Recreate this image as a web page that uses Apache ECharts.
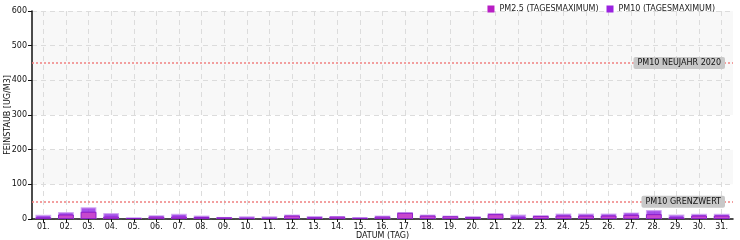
<!DOCTYPE html>
<html><head><meta charset="utf-8">
<script src="https://cdn.jsdelivr.net/npm/echarts@6/dist/echarts.min.js"></script>
<style>html,body{margin:0;padding:0;background:#fff}#c{width:740px;height:240px}</style>
</head><body><div id="c"></div>
<script>
const days = ['01.','02.','03.','04.','05.','06.','07.','08.','09.','10.','11.','12.','13.','14.','15.','16.','17.','18.','19.','20.','21.','22.','23.','24.','25.','26.','27.','28.','29.','30.','31.'];
const pm25 = [5,13,21,7,3,7,7,6,5,4,4,10,5,7,4,7,18,10,8,6,14,5,9,10,10,10,12,14,5,10,10];
const pm10 = [12,20,34,17,5,11,15,10,6,8,8,13,9,9,5,10,20,13,10,8,17,13,11,16,16,16,19,26,13,15,15];
const yTicks = [0,100,200,300,400,500,600];
const limitNewYear = 450;
const limitValue = 50;
const names = {pm25:'PM2.5 (TAGESMAXIMUM)', pm10:'PM10 (TAGESMAXIMUM)'};

const font = 'DejaVu Sans';
const chart = echarts.init(document.getElementById('c'), null, {renderer:'canvas'});
chart.setOption({
  animation:false,
  textStyle:{fontFamily:font},
  legend:{
    right:20, top:0, itemWidth:7, itemHeight:7, itemGap:8,
    icon:'rect',
    itemStyle:{borderWidth:0},
    textStyle:{fontSize:8, color:'#222', fontFamily:font},
    data:[
      {name:names.pm25, itemStyle:{color:'#b81ec4', borderWidth:0}},
      {name:names.pm10, itemStyle:{color:'#9a22e0', borderWidth:0}}
    ]
  },
  grid:{left:32, right:7, top:11, bottom:21, containLabel:false, outerBoundsMode:'none'},
  xAxis:{
    type:'category', data:days,
    name:'DATUM (TAG)', nameLocation:'middle', nameGap:13, nameMoveOverlap:false,
    nameTextStyle:{fontSize:8, color:'#111', fontFamily:font},
    axisLine:{lineStyle:{color:'#111', width:1.5}},
    axisTick:{show:true, alignWithLabel:true, length:3, lineStyle:{color:'#111'}},
    axisLabel:{fontSize:8, color:'#111', margin:4, interval:0, fontFamily:font},
    splitLine:{show:true, alignWithLabel:true, lineStyle:{color:'#dcdcdc', type:[5,4], width:1}}
  },
  yAxis:{
    type:'value', min:yTicks[0], max:yTicks[yTicks.length-1], interval:100,
    name:'FEINSTAUB [UG/M3]', nameLocation:'middle', nameGap:20, nameRotate:90, nameMoveOverlap:false,
    nameTextStyle:{fontSize:8, color:'#111', fontFamily:font},
    axisLine:{show:true, lineStyle:{color:'#111', width:1.5}},
    axisTick:{show:true, length:4, lineStyle:{color:'#111'}},
    axisLabel:{fontSize:8, color:'#111', margin:5, fontFamily:font},
    splitLine:{show:true, lineStyle:{color:'#dcdcdc', type:[5,4]}},
    splitArea:{show:true, areaStyle:{color:['#ffffff','#f8f8f8','#ffffff','#f8f8f8','#f8f8f8','#f8f8f8']}}
  },
  series:[
    {
      name:names.pm10, type:'bar', data:pm10, barWidth:'70%', barGap:'-100%', z:2,
      itemStyle:{color:'rgba(150,50,230,0.85)', borderColor:'rgba(205,160,240,0.8)', borderWidth:1.2},
      markLine:{
        symbol:'none', silent:true,
        lineStyle:{color:'#f08080', type:[2,2], width:1.5},
        label:{position:'insideEnd', distance:8, fontSize:8, color:'#111', fontFamily:font,
               backgroundColor:'#c8c8c8', borderRadius:2, padding:[2,4,2,4]},
        data:[
          {yAxis:limitNewYear, label:{formatter:'PM10 NEUJAHR 2020'}},
          {yAxis:limitValue, label:{formatter:'PM10 GRENZWERT'}}
        ]
      }
    },
    {
      name:names.pm25, type:'bar', data:pm25, barWidth:'70%', z:3,
      itemStyle:{color:'rgba(205,70,200,0.85)', borderColor:'rgba(130,20,200,0.85)', borderWidth:1}
    }
  ],
  color:['#9a22e0','#b81ec4']
});
</script></body></html>
